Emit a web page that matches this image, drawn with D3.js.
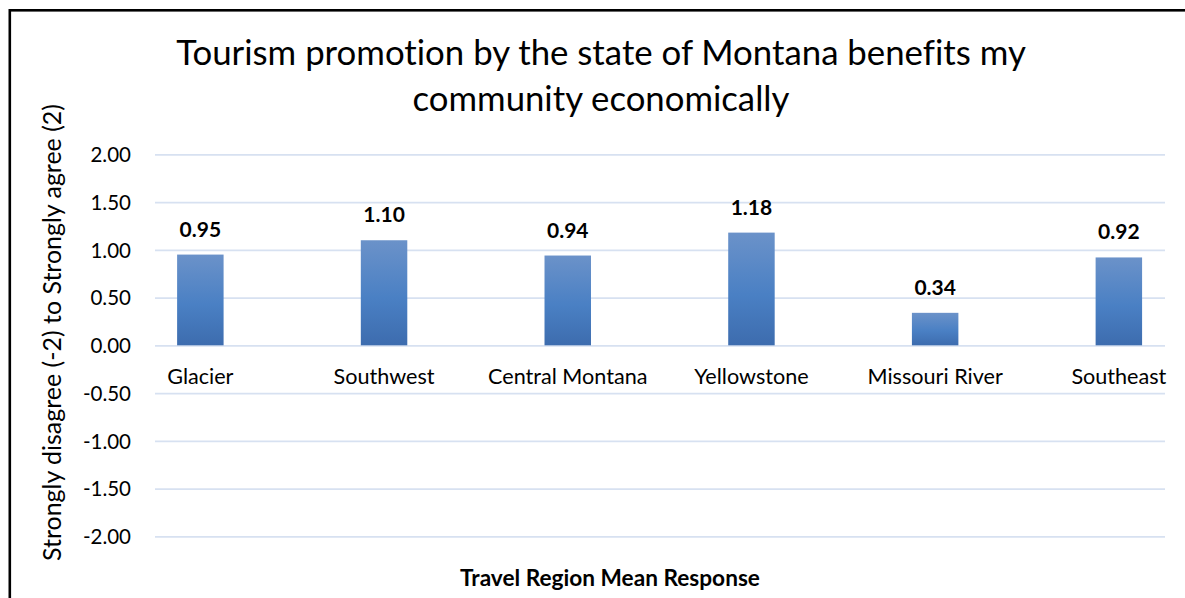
<!DOCTYPE html>
<html>
<head>
<meta charset="utf-8">
<script src="https://cdn.jsdelivr.net/npm/d3@7/dist/d3.min.js"></script>
<style>
  html, body { margin: 0; padding: 0; background: #fff; }
  svg { display: block; font-family: Lato, "Open Sans", sans-serif; font-variant-ligatures: none; }
  text { font-variant-ligatures: none; font-feature-settings: "liga" 0, "clig" 0; }
</style>
</head>
<body>
<svg id="chart" width="1185" height="598"></svg>
<script>
// Mean agreement by travel region
const regions = ["Glacier", "Southwest", "Central Montana", "Yellowstone", "Missouri River", "Southeast"];
const meanResponse = [0.95, 1.10, 0.94, 1.18, 0.34, 0.92];
const yTicks = [-2, -1.5, -1, -0.5, 0, 0.5, 1, 1.5, 2];
const titleLines = ["Tourism promotion by the state of Montana benefits my", "community economically"];
const yTitle = "Strongly disagree (-2) to Strongly agree (2)";
const xTitle = "Travel Region Mean Response";

const svg = d3.select("#chart");

// Two-decimal format with a plain hyphen for negatives
const fmt = d3.formatLocale({ decimal: ".", thousands: ",", grouping: [3], currency: ["$", ""], minus: "-" }).format(".2f");

// Scale a text element so its rendered width equals a target width
function fitWidth(sel, target) {
  const base = parseFloat(sel.attr("font-size"));
  const w = sel.node().getComputedTextLength();
  sel.attr("font-size", (base * target / w).toFixed(2));
  return sel;
}

// Outer chart frame
svg.append("rect")
  .attr("x", 9.8).attr("y", 10.3)
  .attr("width", 1300).attr("height", 700)
  .attr("fill", "none").attr("stroke", "#000").attr("stroke-width", 2.6);

const gridLeft = 155, gridRight = 1165;

const y = d3.scaleLinear().domain([-2, 2]).range([536.3, 154.3]);
const x = d3.scaleBand().domain(regions).range([108.5, 1210.7]).padding(0);
const barW = x.bandwidth() * 0.253;

// Gradient fill for bars
const grad = svg.append("defs").append("linearGradient")
  .attr("id", "barFill").attr("x1", 0).attr("y1", 0).attr("x2", 0).attr("y2", 1);
grad.append("stop").attr("offset", "0%").attr("stop-color", "#6b92c9");
grad.append("stop").attr("offset", "55%").attr("stop-color", "#4a80c4");
grad.append("stop").attr("offset", "100%").attr("stop-color", "#3d6cae");

// Value axis with gridlines
const yAxis = svg.append("g")
  .attr("transform", `translate(${gridLeft},0)`)
  .call(d3.axisLeft(y).tickValues(yTicks).tickFormat(fmt)
    .tickSize(-(gridRight - gridLeft)).tickPadding(24));
yAxis.select(".domain").remove();
yAxis.selectAll(".tick line").attr("stroke", "#d7e1f1").attr("stroke-width", 1.8);
yAxis.selectAll(".tick text")
  .attr("font-size", 20.5).attr("font-family", "Lato, sans-serif")
  .attr("fill", "#000").attr("dy", "0.36em");

// Bars
svg.append("g").selectAll("rect")
  .data(meanResponse)
  .join("rect")
  .attr("x", (d, i) => x(regions[i]) + x.bandwidth() / 2 - barW / 2)
  .attr("y", d => y(Math.max(0, d)))
  .attr("width", barW)
  .attr("height", d => Math.abs(y(d) - y(0)))
  .attr("fill", "url(#barFill)");

// Value labels
svg.append("g").selectAll("text")
  .data(meanResponse)
  .join("text")
  .attr("x", (d, i) => x(regions[i]) + x.bandwidth() / 2)
  .attr("y", d => y(d) - 18)
  .attr("text-anchor", "middle")
  .attr("font-size", 21).attr("font-weight", "bold")
  .attr("fill", "#000")
  .text(fmt);

// Category axis just below zero
const xAxis = svg.append("g")
  .attr("transform", `translate(0,${y(0)})`)
  .call(d3.axisBottom(x).tickSize(0).tickPadding(23));
xAxis.select(".domain").remove();
xAxis.selectAll(".tick text")
  .attr("font-size", 21.6).attr("font-family", "Lato, sans-serif").attr("fill", "#000");

// Title
titleLines.forEach((line, i) => {
  const t = svg.append("text")
    .attr("x", 601).attr("y", 65 + i * 46)
    .attr("text-anchor", "middle")
    .attr("font-size", 32).attr("fill", "#000")
    .text(line);
  fitWidth(t, i === 0 ? 850 : 377);
});

// Axis titles
const yt = svg.append("text")
  .attr("transform", "translate(60.5,332.5) rotate(-90)")
  .attr("text-anchor", "middle")
  .attr("font-size", 21).attr("fill", "#000")
  .text(yTitle);
fitWidth(yt, 457);

const xt = svg.append("text")
  .attr("x", 610).attr("y", 585.7)
  .attr("text-anchor", "middle")
  .attr("font-size", 19).attr("font-weight", "bold").attr("fill", "#000")
  .text(xTitle);
fitWidth(xt, 300);
</script>
</body>
</html>
